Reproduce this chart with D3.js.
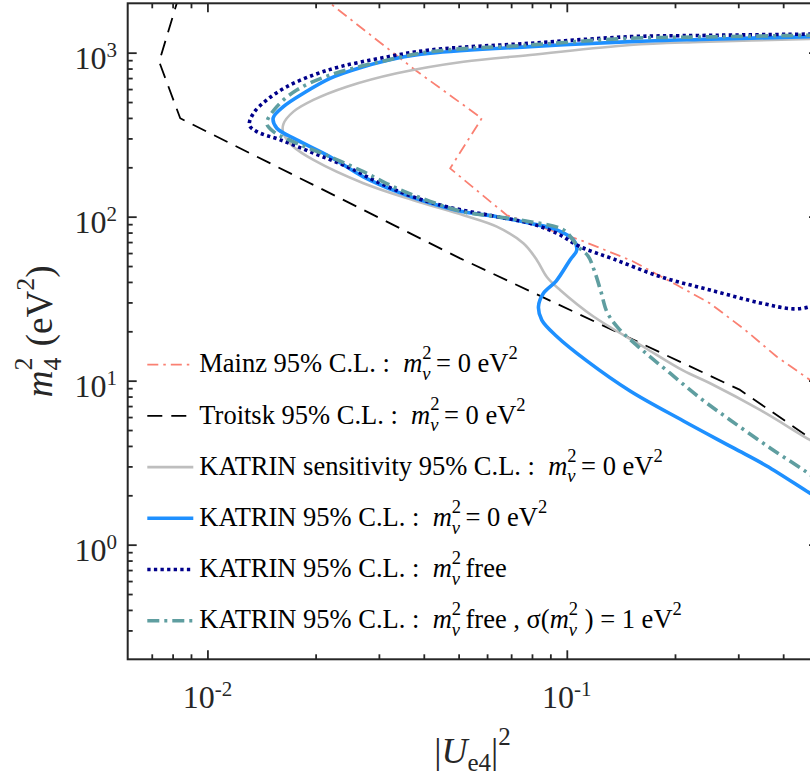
<!DOCTYPE html>
<html><head><meta charset="utf-8">
<script src="https://cdn.jsdelivr.net/npm/d3@7"></script>
<style>
body{margin:0;background:#fff;}
svg{display:block;}
text{font-family:"Liberation Serif","Times New Roman",serif;white-space:pre;}
</style>
</head><body>
<script>
// ---------------- data (|U_e4|^2 , m4^2 [eV^2]) ----------------
const mainzU = [0.0205, 0.03784, 0.0580, 0.04735, 0.0681, 0.1089, 0.152, 0.2024, 0.2504, 0.3133, 0.3841, 0.475, 0.5];
const mainzM = [2250, 784, 398, 197, 102, 72.1, 53.7, 38.3, 29.6, 20.4, 14.0, 10.1, 9.3];

const troitskU = [0.00835, 0.00734, 0.00840, 0.0505, 0.3035, 0.475, 0.5];
const troitskM = [2250, 881, 398, 55.7, 8.78, 4.47, 4.13];

const sensU = [0.5, 0.2349, 0.15, 0.0790, 0.05158, 0.03365, 0.02443, 0.01972, 0.01735, 0.01627, 0.01627, 0.01735, 0.01972, 0.02717, 0.03743, 0.05158, 0.06385, 0.0757, 0.0825, 0.088, 0.0958, 0.1186, 0.1633, 0.2111, 0.2504, 0.3449, 0.475, 0.5];
const sensM = [1216, 1162, 1114, 968, 881, 749, 620, 515, 437, 367, 322, 267, 222, 160, 126, 102, 86.9, 68.8, 54.5, 42.9, 35.7, 24.6, 16.1, 11.5, 9.64, 6.63, 4.35, 4.11];

const katU = [0.5, 0.2349, 0.15, 0.0790, 0.04166, 0.03365, 0.02717, 0.02195, 0.0185, 0.01627, 0.01524, 0.0156, 0.01773, 0.02195, 0.02717, 0.03365, 0.04166, 0.05158, 0.06385, 0.0790, 0.0938, 0.1043, 0.1066, 0.1021, 0.0934, 0.0861, 0.0834, 0.0852, 0.0938, 0.1137, 0.15, 0.2111, 0.2908, 0.3601, 0.475, 0.5];
const katM = [1255, 1204, 1167, 1088, 991, 925, 821, 698, 566, 469, 400, 346, 294, 232, 175, 142, 121, 107, 100, 91.1, 83.0, 72.1, 62.7, 54.5, 40.5, 34.1, 28.3, 23.4, 18.6, 13.2, 8.65, 5.68, 3.89, 3.02, 2.06, 1.93];

const freeU = [0.5, 0.2349, 0.15, 0.079, 0.04166, 0.03024, 0.0234, 0.01972, 0.01663, 0.01463, 0.01343, 0.01309, 0.01372, 0.01594, 0.01972, 0.02443, 0.03024, 0.03743, 0.04636, 0.06385, 0.079, 0.0938, 0.1089, 0.1348, 0.1818, 0.2504, 0.3449, 0.4271, 0.475, 0.5];
const freeM = [1300, 1273, 1252, 1141, 1039, 925, 821, 731, 620, 515, 427, 362, 330, 294, 244, 202, 160, 132, 115, 100, 91.1, 79.2, 65.6, 55.2, 43.1, 35.7, 29.8, 27.4, 28.3, 29.8];

const sigU = [0.5, 0.2349, 0.15, 0.079, 0.04166, 0.03024, 0.02195, 0.01773, 0.0156, 0.01463, 0.01527, 0.01773, 0.02195, 0.02717, 0.03365, 0.04166, 0.05158, 0.06385, 0.079, 0.0979, 0.1075, 0.1146, 0.1191, 0.1245, 0.1294, 0.1389, 0.162, 0.1938, 0.2349, 0.2847, 0.3678, 0.475, 0.5];
const sigM = [1280, 1246, 1224, 1114, 1014, 881, 731, 592, 469, 371, 330, 280, 232, 188, 149, 124, 107, 100, 93.2, 83.0, 65.6, 57.6, 47.3, 34.8, 26.2, 21.0, 15.4, 11.1, 7.84, 5.76, 3.89, 2.68, 2.46];

const xDomain = [0.006, 0.5];
const yDomain = [0.2, 2000];
const xMajor = [0.01, 0.1];
const xMajorExp = ["-2", "-1"];
const yMajor = [1, 10, 100, 1000];
const yMajorExp = ["0", "1", "2", "3"];
const xMinor = [0.007, 0.008, 0.009, 0.02, 0.03, 0.04, 0.05, 0.06, 0.07, 0.08, 0.09, 0.2, 0.3, 0.4];
const yMinor = [0.3, 0.4, 0.5, 0.6, 0.7, 0.8, 0.9, 2, 3, 4, 5, 6, 7, 8, 9, 20, 30, 40, 50, 60, 70, 80, 90, 200, 300, 400, 500, 600, 700, 800, 900];

// ---------------- layout ----------------
const W = 810, H = 778;
const L = 127.7, R = 818, T = 3.3, B = 659.3;
const AX = "#262626";

const svg = d3.select("body").append("svg").attr("width", W).attr("height", H);
const x = d3.scaleLog().domain(xDomain).range([L, R]);
const y = d3.scaleLog().domain(yDomain).range([B, T]);

svg.append("defs").append("clipPath").attr("id", "clip")
  .append("rect").attr("x", L).attr("y", T).attr("width", R - L).attr("height", B - T);

const series = [
  {U: mainzU, M: mainzM, color: "#FA8072", w: 1.8, dash: "11,5,2.5,5", smooth: false},
  {U: troitskU, M: troitskM, color: "#000000", w: 1.8, dash: "15,9", smooth: false},
  {U: sensU, M: sensM, color: "#BEBEBE", w: 2.6, dash: null, smooth: true},
  {U: katU, M: katM, color: "#1E90FF", w: 3.6, dash: null, smooth: true},
  {U: freeU, M: freeM, color: "#00008B", w: 3.6, dash: "3.3,3.3", smooth: true},
  {U: sigU, M: sigM, color: "#5F9EA0", w: 3.6, dash: "12,5,3,5", smooth: true}
];

const plot = svg.append("g").attr("clip-path", "url(#clip)");
series.forEach(s => {
  const pts = s.U.map((u, i) => [u, s.M[i]]);
  const line = d3.line().x(d => x(d[0])).y(d => y(d[1]))
    .curve(s.smooth ? d3.curveCatmullRom.alpha(0.5) : d3.curveLinear);
  plot.append("path").attr("d", line(pts)).attr("fill", "none")
    .attr("stroke", s.color).attr("stroke-width", s.w)
    .attr("stroke-dasharray", s.dash).attr("stroke-linejoin", "round");
});

// ---------------- axes ----------------
const ax = svg.append("g");
function ticks(gen, vals, size, tr) {
  const g = ax.append("g").attr("transform", tr)
    .call(gen.tickValues(vals).tickSize(size).tickSizeOuter(0).tickFormat(""));
  g.select(".domain").remove();
  g.selectAll("line").attr("stroke", AX).attr("stroke-width", 1.8);
}
ticks(d3.axisBottom(x), xMajor, -9, `translate(0,${B})`);
ticks(d3.axisBottom(x), xMinor, -5, `translate(0,${B})`);
ticks(d3.axisTop(x), xMajor, -9, `translate(0,${T})`);
ticks(d3.axisTop(x), xMinor, -5, `translate(0,${T})`);
ticks(d3.axisLeft(y), yMajor, -9, `translate(${L},0)`);
ticks(d3.axisLeft(y), yMinor, -5, `translate(${L},0)`);
ticks(d3.axisRight(y), yMajor, -9, `translate(${R},0)`);
ticks(d3.axisRight(y), yMinor, -5, `translate(${R},0)`);
ax.append("rect").attr("x", L).attr("y", T).attr("width", R - L).attr("height", B - T)
  .attr("fill", "none").attr("stroke", AX).attr("stroke-width", 2);

// tick labels
xMajor.forEach((v, i) => {
  const t = svg.append("text").attr("x", x(v)).attr("y", 708.3).attr("text-anchor", "middle")
    .attr("fill", AX).style("font-size", "32px");
  t.append("tspan").text("10");
  t.append("tspan").attr("dy", -12).style("font-size", "21px").text(xMajorExp[i]);
});
yMajor.forEach((v, i) => {
  const t = svg.append("text").attr("x", 117).attr("y", y(v) + 16).attr("text-anchor", "end")
    .attr("fill", AX).style("font-size", "32px");
  t.append("tspan").text("10");
  t.append("tspan").attr("dy", -12).style("font-size", "21px").text(yMajorExp[i]);
});

// ---------------- rich text helper ----------------
function rich(g, pieces, x0, yb) {
  let cx = x0;
  pieces.forEach(p => {
    if (p.stack) {
      const a = g.append("text").attr("x", cx).attr("y", yb - p.up).attr("xml:space", "preserve")
        .style("font-size", p.size + "px").style("font-style", p.it0 ? "italic" : "normal").text(p.stack[0]);
      const b = g.append("text").attr("x", cx).attr("y", yb + p.down).attr("xml:space", "preserve")
        .style("font-size", p.size + "px").style("font-style", p.it1 ? "italic" : "normal").text(p.stack[1]);
      cx += Math.max(a.node().getComputedTextLength(), b.node().getComputedTextLength()) + (p.after || 0);
    } else {
      const t = g.append("text").attr("x", cx).attr("y", yb - (p.up || 0)).attr("xml:space", "preserve")
        .style("font-size", p.size + "px").style("font-style", p.it ? "italic" : "normal").text(p.t);
      cx += t.node().getComputedTextLength() + (p.after || 0);
    }
  });
  return cx - x0;
}

// ---------------- legend ----------------
const FS = 26.5, SS = 18.5;
const mNu = [{t: "m", it: true, size: FS}, {stack: ["2", "\u03BD"], size: SS, up: 13.3, down: 7.5, it0: false, it1: true, after: 4.5}];
const sq = {t: "2", size: SS, up: 13};
const legendRows = [
  [{t: "Mainz 95% C.L. :  ", size: FS}, ...mNu, {t: "= 0 eV", size: FS}, sq],
  [{t: "Troitsk 95% C.L. :  ", size: FS}, ...mNu, {t: "= 0 eV", size: FS}, sq],
  [{t: "KATRIN sensitivity 95% C.L. :  ", size: FS}, ...mNu, {t: "= 0 eV", size: FS}, sq],
  [{t: "KATRIN 95% C.L. :  ", size: FS}, ...mNu, {t: "= 0 eV", size: FS}, sq],
  [{t: "KATRIN 95% C.L. :  ", size: FS}, ...mNu, {t: "free", size: FS}],
  [{t: "KATRIN 95% C.L. :  ", size: FS}, ...mNu, {t: "free , \u03C3(", size: FS},
    {t: "m", it: true, size: FS}, {stack: ["2", "\u03BD"], size: SS, up: 13.3, down: 7.5, it0: false, it1: true, after: 0},
    {t: " ) = 1 eV", size: FS}, sq]
];
const leg = svg.append("g").attr("fill", "#000");
legendRows.forEach((row, i) => {
  const yb = 372.4 + 51.2 * i;
  const s = series[i];
  leg.append("line").attr("x1", 147.3).attr("x2", 193.3).attr("y1", yb - 7.7).attr("y2", yb - 7.7)
    .attr("stroke", s.color).attr("stroke-width", s.w).attr("stroke-dasharray", s.dash);
  rich(leg, row, 199.3, yb);
});

// ---------------- axis labels ----------------
const LS = 25;
const xl = svg.append("g").attr("transform", "translate(472.5,763)").attr("fill", AX);
const xin = xl.append("g");
const wx = rich(xin, [
  {t: "|", size: 36}, {t: "U", it: true, size: 36},
  {t: "e4", size: LS, up: -8}, {t: "|", size: 36}, {t: "2", size: LS, up: 18}
], 0, 0);
xin.attr("transform", `translate(${-wx / 2},0)`);

const yl = svg.append("g").attr("transform", "translate(52,331.3) rotate(-90)").attr("fill", AX);
const yin = yl.append("g");
const wy = rich(yin, [
  {t: "m", it: true, size: 37}, {stack: ["2", "4"], size: 26, up: 20, down: 9, after: 2},
  {t: " (eV", size: 37}, {t: "2", size: 26, up: 18}, {t: ")", size: 37}
], 0, 0);
yin.attr("transform", `translate(${-wy / 2},0)`);
</script>
</body></html>
